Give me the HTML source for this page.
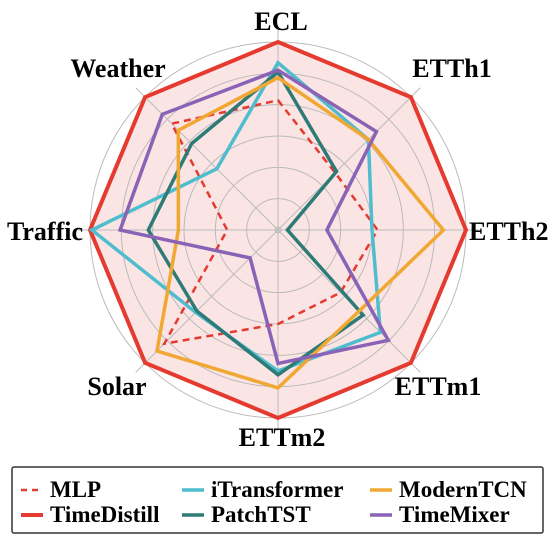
<!DOCTYPE html>
<html><head><meta charset="utf-8"><style>
html,body{margin:0;padding:0;background:#fff;}
svg{display:block;font-family:"Liberation Serif",serif;font-weight:bold;}
</style></head><body>
<svg id="chart" width="560" height="544" viewBox="0 0 560 544" xmlns="http://www.w3.org/2000/svg">
<g id="series"></g>
<g id="labels"></g>
<g id="legend">
<rect x="12" y="467" width="531" height="66" fill="#fff" stroke="#333" stroke-width="1.5" rx="2"/>
</g>
</svg>
<script>
const categories = ["ECL","ETTh1","ETTh2","ETTm1","ETTm2","Solar","Traffic","Weather"];
const seriesNames = ["MLP","TimeDistill","iTransformer","PatchTST","ModernTCN","TimeMixer"];
const mlpValues = [0.69,0.43,0.53,0.47,0.50,0.855,0.27,0.80];
const timeDistillValues = [1,1,1,1,1,1,1,1];
const iTransformerValues = [0.89,0.68,0.50,0.77,0.75,0.62,0.99,0.46];
const patchTSTValues = [0.84,0.44,0.05,0.64,0.77,0.61,0.69,0.65];
const modernTCNValues = [0.81,0.68,0.88,0.61,0.84,0.91,0.53,0.75];
const timeMixerValues = [0.85,0.74,0.26,0.83,0.71,0.21,0.84,0.87];
const ringLevels = [1/6,2/6,3/6,4/6,5/6,1];

const NS="http://www.w3.org/2000/svg";
const cx=278, cy=230, R=188;
function angle(i){return -Math.PI/2 + i*2*Math.PI/categories.length;}
function px(i,v){return cx+R*v*Math.cos(angle(i));}
function py(i,v){return cy+R*v*Math.sin(angle(i));}
function mk(tag,attrs,parent){const e=document.createElementNS(NS,tag);for(const k in attrs)e.setAttribute(k,attrs[k]);parent.appendChild(e);return e;}

const series=document.getElementById('series');
const defs=[
 {name:'TimeDistill',vals:timeDistillValues,color:'#e53a2f',w:4,dash:null,fill:'rgba(233,120,120,0.2)'},
 {name:'MLP',vals:mlpValues,color:'#e53a2f',w:2.5,dash:'7,5',fill:'none'},
 {name:'iTransformer',vals:iTransformerValues,color:'#4fbdcd',w:3.5,dash:null,fill:'none'},
 {name:'PatchTST',vals:patchTSTValues,color:'#2e7a76',w:3.5,dash:null,fill:'none'},
 {name:'ModernTCN',vals:modernTCNValues,color:'#f0a832',w:3.5,dash:null,fill:'none'},
 {name:'TimeMixer',vals:timeMixerValues,color:'#8a62b6',w:3.5,dash:null,fill:'none'}
];
function drawPoly(d){
  const pts=d.vals.map((v,i)=>px(i,v).toFixed(1)+','+py(i,v).toFixed(1)).join(' ');
  const a={points:pts,fill:d.fill,stroke:d.color,'stroke-width':d.w,'stroke-linejoin':'miter'};
  if(d.dash)a['stroke-dasharray']=d.dash;
  const p=mk('polygon',a,series);
  
  
}
// fill only of TimeDistill first
const fillPts=timeDistillValues.map((v,i)=>px(i,v).toFixed(1)+','+py(i,v).toFixed(1)).join(' ');
const fp=mk('polygon',{points:fillPts,fill:'rgba(233,120,120,0.2)',stroke:'none'},series);



ringLevels.forEach((l,k)=>{
  const c=mk('circle',{cx:cx,cy:cy,r:R*l,fill:'none',stroke:'#bbb','stroke-width':1},series);
  
  
});
const cc=mk('circle',{cx:cx,cy:cy,r:3,fill:'none',stroke:'#bbb','stroke-width':1},series);


categories.forEach((c,i)=>{
  const l=mk('line',{x1:cx,y1:cy,x2:px(i,1.07),y2:py(i,1.07),stroke:'#bbb','stroke-width':1},series);
  
  
});
defs.forEach(d=>drawPoly(Object.assign({},d,{fill:'none'})));

const labelsG=document.getElementById('labels');
const labelPos=[[281,30,'middle'],[452,77,'middle'],[469,240,'start'],[438,395,'middle'],[282,446,'middle'],[117,395,'middle'],[83,240,'end'],[118,77,'middle']];
categories.forEach((c,i)=>{
  const t=mk('text',{x:labelPos[i][0],y:labelPos[i][1],'text-anchor':labelPos[i][2],'font-size':26,fill:'#000'},labelsG);
  t.textContent=c;
  
  
});

const legend=document.getElementById('legend');
const legOrder=[['MLP',21,497],['iTransformer',182,497],['ModernTCN',370,497],['TimeDistill',21,522],['PatchTST',182,522],['TimeMixer',370,522]];
legOrder.forEach(([n,x,y])=>{
  const d=defs.find(e=>e.name===n);
  const a={x1:x,y1:y-7,x2:x+22,y2:y-7,stroke:d.color,'stroke-width':d.w};
  if(d.dash)a['stroke-dasharray']='6,5';
  const l=mk('line',a,legend);
  
  
  const t=mk('text',{x:x+29,y:y,'font-size':23,fill:'#000'},legend);
  t.textContent=n;
  
  
});
</script>
</body></html>
